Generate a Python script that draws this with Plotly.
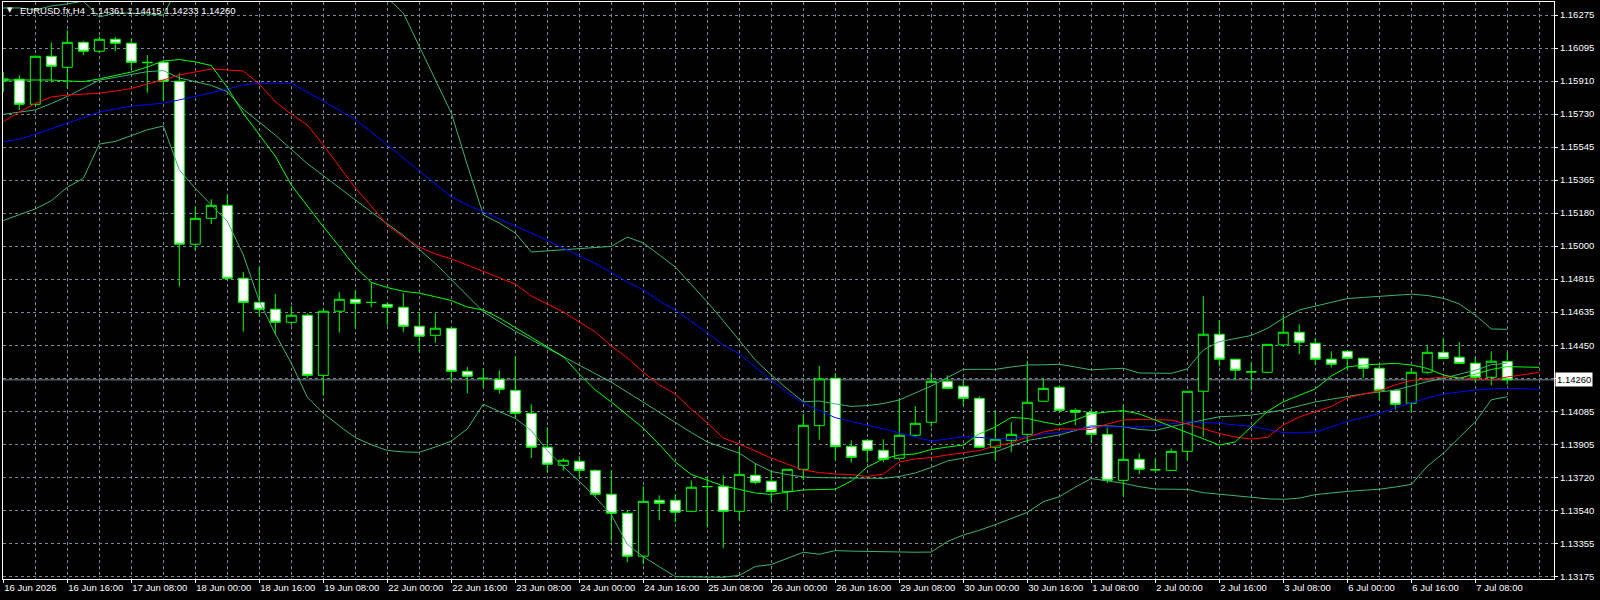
import plotly.graph_objects as go

# ---------------- data (EURUSD.fx H4) ----------------
opens = [1.15911,1.15920,1.15782,1.16047,1.15986,1.16124,1.16075,1.16141,1.16119,1.16014,
         1.16014,1.15909,1.15009,1.15152,1.15224,1.14821,1.14688,1.14650,1.14578,1.14617,
         1.14285,1.14639,1.14705,1.14688,1.14677,1.14661,1.14556,1.14506,1.14545,1.14307,
         1.14269,1.14263,1.14202,1.14075,1.13888,1.13788,1.13810,1.13760,1.13628,1.13523,
         1.13286,1.13595,1.13595,1.13534,1.13671,1.13672,1.13534,1.13733,1.13700,1.13644,
         1.13766,1.14007,1.14269,1.13893,1.13926,1.13871,1.13827,1.13954,1.14026,1.14252,
         1.14225,1.14158,1.13888,1.13926,1.13959,1.14142,1.14219,1.14092,1.14081,1.13959,
         1.13705,1.13821,1.13764,1.13760,1.13865,1.14197,1.14512,1.14374,1.14305,1.14302,
         1.14453,1.14523,1.14462,1.14374,1.14418,1.14379,1.14324,1.14202,1.14131,1.14302,
         1.14412,1.14385,1.14352,1.14274,1.14361]
highs = [1.15960,1.15942,1.16050,1.16124,1.16191,1.16133,1.16158,1.16154,1.16146,1.16053,
         1.16025,1.15953,1.15216,1.15257,1.15283,1.14856,1.14885,1.14734,1.14668,1.14628,
         1.14655,1.14745,1.14755,1.14799,1.14688,1.14738,1.14633,1.14628,1.14547,1.14331,
         1.14324,1.14313,1.14390,1.14125,1.13998,1.13827,1.13838,1.13766,1.13760,1.13541,
         1.13672,1.13622,1.13628,1.13705,1.13727,1.13733,1.13888,1.13799,1.13760,1.13767,
         1.14072,1.14337,1.14296,1.13926,1.13933,1.13932,1.14156,1.14114,1.14302,1.14285,
         1.14258,1.14169,1.14092,1.14026,1.14363,1.14269,1.14230,1.14103,1.14103,1.13998,
         1.14120,1.13854,1.13827,1.13882,1.14198,1.14722,1.14589,1.14375,1.14357,1.14457,
         1.14617,1.14567,1.14490,1.14418,1.14419,1.14385,1.14341,1.14208,1.14324,1.14451,
         1.14490,1.14468,1.14385,1.14418,1.14415]
lows = [1.15850,1.15750,1.15773,1.15903,1.15870,1.16053,1.16064,1.16075,1.15975,1.15846,
        1.15802,1.14775,1.14973,1.15121,1.14812,1.14526,1.14609,1.14508,1.14561,1.14269,
        1.14173,1.14521,1.14545,1.14661,1.14561,1.14523,1.14412,1.14465,1.14247,1.14186,
        1.14213,1.14184,1.14048,1.13827,1.13750,1.13758,1.13716,1.13615,1.13368,1.13252,
        1.13241,1.13484,1.13473,1.13529,1.13446,1.13330,1.13484,1.13683,1.13589,1.13540,
        1.13707,1.13930,1.13814,1.13803,1.13803,1.13805,1.13826,1.13943,1.14001,1.14208,
        1.14114,1.13882,1.13816,1.13860,1.13910,1.14141,1.14081,1.14009,1.13915,1.13689,
        1.13617,1.13738,1.13753,1.13759,1.13814,1.13946,1.14335,1.14258,1.14202,1.14296,
        1.14445,1.14401,1.14341,1.14329,1.14320,1.14269,1.14147,1.14097,1.14081,1.14291,
        1.14378,1.14351,1.14247,1.14230,1.14233]
closes = [1.15922,1.15782,1.16047,1.15992,1.16124,1.16075,1.16141,1.16119,1.16014,1.16012,
          1.15909,1.15009,1.15152,1.15224,1.14821,1.14688,1.14650,1.14578,1.14617,1.14285,
          1.14639,1.14705,1.14683,1.14687,1.14661,1.14556,1.14501,1.14545,1.14307,1.14280,
          1.14268,1.14208,1.14075,1.13888,1.13794,1.13816,1.13760,1.13628,1.13523,1.13286,
          1.13589,1.13578,1.13529,1.13667,1.13670,1.13534,1.13738,1.13694,1.13644,1.13766,
          1.14009,1.14265,1.13891,1.13832,1.13871,1.13821,1.13954,1.14020,1.14252,1.14213,
          1.14158,1.13888,1.13932,1.13959,1.14136,1.14213,1.14092,1.14081,1.13959,1.13705,
          1.13821,1.13766,1.13763,1.13865,1.14197,1.14512,1.14374,1.14313,1.14304,1.14456,
          1.14523,1.14468,1.14374,1.14346,1.14379,1.14324,1.14202,1.14125,1.14302,1.14412,
          1.14378,1.14351,1.14274,1.14363,1.14260]

ma_red = [1.15686,1.15739,1.15786,1.15822,1.15833,1.15839,1.15843,1.15855,1.15869,1.15894,
          1.15916,1.15944,1.15960,1.15977,1.15971,1.15966,1.15894,1.15795,1.15728,1.15668,
          1.15557,1.15436,1.15320,1.15220,1.15115,1.15049,1.14994,1.14955,1.14928,1.14894,
          1.14859,1.14823,1.14789,1.14723,1.14679,1.14635,1.14580,1.14524,1.14447,1.14381,
          1.14303,1.14232,1.14182,1.14099,1.14022,1.13939,1.13906,1.13867,1.13828,1.13795,
          1.13762,1.13748,1.13740,1.13737,1.13726,1.13740,1.13806,1.13823,1.13831,1.13845,
          1.13856,1.13870,1.13895,1.13911,1.13944,1.13972,1.13989,1.13989,1.13986,1.14016,
          1.14038,1.14041,1.14041,1.14038,1.14016,1.13989,1.13964,1.13944,1.13933,1.13942,
          1.14011,1.14055,1.14083,1.14113,1.14160,1.14182,1.14199,1.14232,1.14257,1.14265,
          1.14276,1.14273,1.14268,1.14259,1.14276,1.14287,1.14301]
ma_blue = [1.15575,1.15589,1.15616,1.15646,1.15679,1.15709,1.15739,1.15756,1.15771,1.15780,
           1.15788,1.15806,1.15825,1.15844,1.15866,1.15889,1.15898,1.15898,1.15898,1.15850,
           1.15800,1.15751,1.15698,1.15629,1.15557,1.15485,1.15414,1.15342,1.15270,1.15226,
           1.15187,1.15149,1.15113,1.15071,1.15030,1.14988,1.14944,1.14903,1.14853,1.14800,
           1.14756,1.14696,1.14646,1.14585,1.14519,1.14453,1.14403,1.14331,1.14257,1.14190,
           1.14132,1.14091,1.14051,1.14030,1.14011,1.13989,1.13967,1.13944,1.13922,1.13933,
           1.13946,1.13942,1.13935,1.13935,1.13950,1.13961,1.13969,1.13983,1.14000,1.14000,
           1.14000,1.14000,1.14005,1.14016,1.14029,1.14024,1.14020,1.14011,1.14003,1.13986,
           1.13968,1.13968,1.13972,1.14000,1.14030,1.14052,1.14074,1.14105,1.14132,1.14160,
           1.14182,1.14193,1.14204,1.14210,1.14213,1.14211,1.14208]
ma_lime = [1.15916,1.15916,1.15916,1.15916,1.15911,1.15907,1.15922,1.15941,1.15960,1.15988,
           1.16021,1.16029,1.16016,1.15996,1.15875,1.15732,1.15615,1.15496,1.15336,1.15220,
           1.15106,1.14997,1.14883,1.14798,1.14770,1.14749,1.14739,1.14719,1.14698,1.14662,
           1.14646,1.14602,1.14549,1.14497,1.14441,1.14388,1.14292,1.14204,1.14138,1.14063,
           1.13993,1.13903,1.13806,1.13737,1.13707,1.13674,1.13655,1.13635,1.13627,1.13638,
           1.13652,1.13654,1.13656,1.13701,1.13779,1.13823,1.13845,1.13851,1.13875,1.13889,
           1.13900,1.13961,1.14000,1.14052,1.14047,1.14027,1.14011,1.14038,1.14072,1.14083,
           1.14090,1.14072,1.14038,1.14000,1.13967,1.13933,1.13900,1.13917,1.14002,1.14085,
           1.14139,1.14174,1.14210,1.14281,1.14331,1.14342,1.14346,1.14351,1.14342,1.14323,
           1.14287,1.14269,1.14292,1.14317,1.14333,1.14331,1.14329]
bb_upper = [1.16314,1.16314,1.16303,1.16325,1.16336,1.16352,1.16264,1.16286,1.16286,1.16281,
            1.16275,1.16441,1.16502,1.16557,1.16579,1.16562,1.16684,1.16745,1.16739,1.16756,
            1.16767,1.16689,1.16579,1.16480,1.16369,1.16286,1.16104,1.15916,1.15734,1.15447,
            1.15171,1.15126,1.15071,1.14966,1.14972,1.14977,1.14983,1.14988,1.14997,1.15049,
            1.15016,1.14950,1.14883,1.14786,1.14690,1.14586,1.14480,1.14370,1.14287,1.14210,
            1.14139,1.14143,1.14127,1.14113,1.14118,1.14129,1.14149,1.14188,1.14226,1.14272,
            1.14318,1.14318,1.14318,1.14331,1.14342,1.14343,1.14346,1.14331,1.14315,1.14320,
            1.14324,1.14298,1.14296,1.14296,1.14320,1.14425,1.14471,1.14487,1.14505,1.14544,
            1.14600,1.14646,1.14668,1.14690,1.14709,1.14715,1.14720,1.14726,1.14733,1.14726,
            1.14711,1.14679,1.14618,1.14541,1.14539]
bb_middle = [1.15726,1.15738,1.15751,1.15786,1.15825,1.15870,1.15915,1.15931,1.15947,1.15962,
             1.15968,1.15927,1.15907,1.15886,1.15852,1.15754,1.15683,1.15612,1.15533,1.15454,
             1.15388,1.15320,1.15252,1.15187,1.15122,1.15058,1.14980,1.14903,1.14814,1.14726,
             1.14636,1.14581,1.14529,1.14482,1.14435,1.14388,1.14341,1.14294,1.14247,1.14192,
             1.14136,1.14080,1.14025,1.13969,1.13917,1.13887,1.13855,1.13798,1.13754,1.13737,
             1.13724,1.13720,1.13718,1.13716,1.13716,1.13716,1.13726,1.13746,1.13776,1.13812,
             1.13828,1.13845,1.13862,1.13895,1.13925,1.13940,1.13956,1.13980,1.14008,1.14006,
             1.14001,1.13986,1.13980,1.14002,1.14021,1.14038,1.14056,1.14060,1.14065,1.14079,
             1.14094,1.14116,1.14138,1.14153,1.14168,1.14182,1.14193,1.14203,1.14226,1.14250,
             1.14269,1.14291,1.14313,1.14343,1.14352]
bb_lower = [1.15140,1.15171,1.15204,1.15249,1.15324,1.15373,1.15562,1.15577,1.15611,1.15641,
            1.15662,1.15420,1.15317,1.15226,1.15136,1.14950,1.14694,1.14514,1.14352,1.14165,
            1.14075,1.14006,1.13941,1.13902,1.13870,1.13862,1.13860,1.13889,1.13922,1.13989,
            1.14125,1.14085,1.14047,1.13980,1.13869,1.13780,1.13700,1.13613,1.13515,1.13351,
            1.13283,1.13228,1.13173,1.13172,1.13171,1.13170,1.13180,1.13229,1.13240,1.13275,
            1.13308,1.13297,1.13317,1.13314,1.13312,1.13309,1.13308,1.13308,1.13309,1.13367,
            1.13403,1.13429,1.13460,1.13493,1.13528,1.13587,1.13614,1.13667,1.13715,1.13702,
            1.13689,1.13670,1.13657,1.13656,1.13655,1.13637,1.13628,1.13620,1.13611,1.13603,
            1.13600,1.13607,1.13626,1.13637,1.13644,1.13650,1.13656,1.13668,1.13682,1.13783,
            1.13854,1.13942,1.14028,1.14150,1.14167]

time_labels = ["16 Jun 2026", "16 Jun 16:00", "17 Jun 08:00", "18 Jun 00:00", "18 Jun 16:00",
               "19 Jun 08:00", "22 Jun 00:00", "22 Jun 16:00", "23 Jun 08:00", "24 Jun 00:00",
               "24 Jun 16:00", "25 Jun 08:00", "26 Jun 00:00", "26 Jun 16:00", "29 Jun 08:00",
               "30 Jun 00:00", "30 Jun 16:00", "1 Jul 08:00", "2 Jul 00:00", "2 Jul 16:00",
               "3 Jul 08:00", "6 Jul 00:00", "6 Jul 16:00", "7 Jul 08:00"]
price_labels = ["1.13175", "1.13355", "1.13540", "1.13720", "1.13905", "1.14085", "",
                "1.14450", "1.14635", "1.14815", "1.15000", "1.15180", "1.15365", "1.15545",
                "1.15730", "1.15910", "1.16095", "1.16275"]
symbol = "EURUSD.fx,H4"
last_bar = [1.14361, 1.14415, 1.14233, 1.14260]
current_price = 1.14260

# ---------------- figure ----------------
FONT = "Liberation Sans, Arial, sans-serif"
FS = 9.5
GRID = "#778899"
LIME = "#00FF00"
SEA = "#3CB371"

n_bars = len(opens)
xb = list(range(n_bars))
xm = list(range(len(ma_red)))

fig = go.Figure()
fig.add_trace(go.Candlestick(
    x=xb, open=opens, high=highs, low=lows, close=closes,
    increasing=dict(fillcolor="#000000", line=dict(color=LIME, width=1)),
    decreasing=dict(fillcolor="#FFFFFF", line=dict(color=LIME, width=1)),
    whiskerwidth=0, showlegend=False, hoverinfo="skip"))

for ys, col, xs in [(bb_upper, SEA, xb), (bb_middle, SEA, xb), (bb_lower, SEA, xb),
                    (ma_blue, "#0000FF", xm), (ma_red, "#FF0000", xm), (ma_lime, LIME, xm)]:
    fig.add_trace(go.Scatter(x=xs, y=ys, mode="lines", line=dict(color=col, width=1),
                             showlegend=False, hoverinfo="skip"))

y_lo, y_hi = 1.13175, 1.16275
step = (y_hi - y_lo) / (len(price_labels) - 1)
tickvals_y = [y_lo + i * step for i in range(len(price_labels))]

fig.update_layout(
    width=1600, height=600,
    paper_bgcolor="#000000", plot_bgcolor="#000000",
    margin=dict(l=3, r=46, t=2, b=21),
    boxgap=0.38, boxgroupgap=0,
    showlegend=False,
    font=dict(family=FONT, size=FS, color="#FFFFFF"),
    xaxis=dict(
        range=[-0.019, 96.92], rangeslider=dict(visible=False),
        tickmode="array", tickvals=list(range(0, n_bars, 4))[:len(time_labels)], ticktext=time_labels,
        ticks="outside", ticklen=3, tickcolor="#FFFFFF", ticklabelposition="outside right",
        tickangle=0, automargin=False,
        tickfont=dict(family=FONT, size=FS, color="#FFFFFF"),
        showgrid=True, gridcolor=GRID, gridwidth=1, griddash="3px,3px",
        minor=dict(tickmode="linear", tick0=0, dtick=2, showgrid=True, gridcolor=GRID,
                   gridwidth=1, griddash="3px,3px", ticks=""),
        showline=True, mirror=True, linecolor="#FFFFFF", linewidth=1, zeroline=False,
    ),
    yaxis=dict(
        side="right", range=[1.131601, 1.163468], automargin=False,
        tickmode="array", tickvals=tickvals_y, ticktext=price_labels,
        ticks="outside", ticklen=3, tickcolor="#FFFFFF",
        tickfont=dict(family=FONT, size=FS, color="#FFFFFF"),
        showgrid=True, gridcolor=GRID, gridwidth=1, griddash="3px,3px",
        showline=True, mirror=True, linecolor="#FFFFFF", linewidth=1, zeroline=False,
    ),
    shapes=[dict(type="line", xref="paper", x0=0, x1=1, yref="y", y0=current_price, y1=current_price,
                 line=dict(color=GRID, width=1), layer="below")],
    annotations=[
        dict(xref="paper", yref="y", x=1, y=current_price, xanchor="left", yanchor="middle",
             xshift=1, text="%.5f" % current_price, showarrow=False,
             bgcolor="#FFFFFF", borderpad=1, font=dict(family=FONT, size=FS, color="#000000")),
        dict(xref="paper", yref="paper", x=0.0015, y=0.986, xanchor="left", yanchor="middle",
             text="\u25BC", showarrow=False, font=dict(family="DejaVu Sans", size=7, color="#FFFFFF")),
        dict(xref="paper", yref="paper", x=0.0097, y=0.986, xanchor="left", yanchor="middle",
             text=symbol + "  " + " ".join("%.5f" % v for v in last_bar), showarrow=False,
             font=dict(family=FONT, size=FS, color="#FFFFFF")),
    ],
)

fig.write_html("out.html")
